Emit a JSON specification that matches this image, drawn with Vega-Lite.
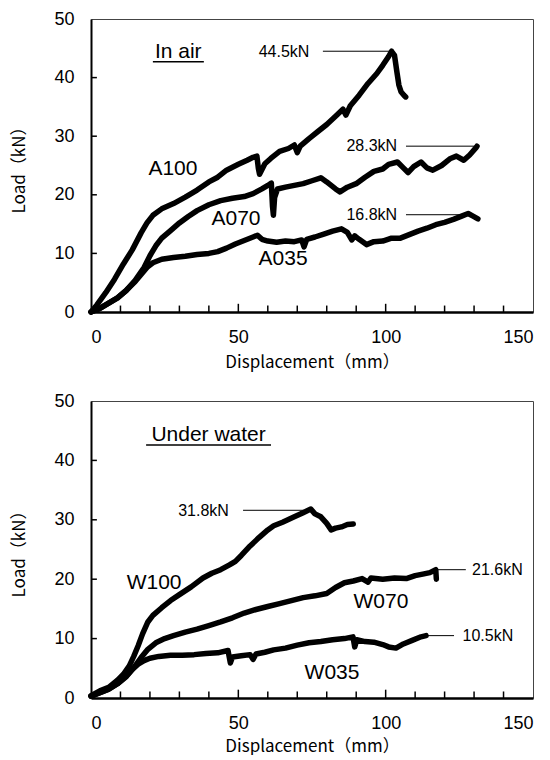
{
  "$schema": "https://vega.github.io/schema/vega-lite/v6.json",
  "background": "white",
  "padding": {"left": 10, "top": 9, "right": 0, "bottom": 0},
  "spacing": 20,
  "config": {
    "font": "Liberation Sans",
    "view": {"stroke": "#444", "strokeWidth": 1},
    "axis": {
      "grid": false,
      "zindex": 0,
      "domainColor": "black",
      "domainWidth": 2.5,
      "tickColor": "black",
      "tickOpacity": 0,
      "tickSize": -6,
      "labelFont": "Liberation Sans",
      "labelFontSize": 18,
      "labelColor": "black",
      "labelOverlap": false,
      "titleFont": "Noto Sans CJK JP",
      "titleFontSize": 17,
      "titleFontWeight": "normal",
      "titleColor": "black"
    }
  },
  "datasets": {
    "curves": [
      {"p":"air","s":"A100","d":0,"L":0},{"p":"air","s":"A100","d":2,"L":1.2},{"p":"air","s":"A100","d":5,"L":3.3},{"p":"air","s":"A100","d":8,"L":5.6},{"p":"air","s":"A100","d":11,"L":8.2},{"p":"air","s":"A100","d":14,"L":10.6},{"p":"air","s":"A100","d":17,"L":13.5},{"p":"air","s":"A100","d":19,"L":15.2},{"p":"air","s":"A100","d":21,"L":16.5},{"p":"air","s":"A100","d":24,"L":17.6},{"p":"air","s":"A100","d":28,"L":18.5},{"p":"air","s":"A100","d":32,"L":19.6},{"p":"air","s":"A100","d":36,"L":20.8},{"p":"air","s":"A100","d":40,"L":22.2},{"p":"air","s":"A100","d":43,"L":23.0},{"p":"air","s":"A100","d":46,"L":24.2},{"p":"air","s":"A100","d":50,"L":25.2},{"p":"air","s":"A100","d":53,"L":25.9},{"p":"air","s":"A100","d":55,"L":26.4},{"p":"air","s":"A100","d":56.3,"L":26.6},{"p":"air","s":"A100","d":56.8,"L":24.5},{"p":"air","s":"A100","d":57.2,"L":23.5},{"p":"air","s":"A100","d":59,"L":25.3},{"p":"air","s":"A100","d":61,"L":26.2},{"p":"air","s":"A100","d":64,"L":27.4},{"p":"air","s":"A100","d":67,"L":27.9},{"p":"air","s":"A100","d":69,"L":28.5},{"p":"air","s":"A100","d":70,"L":27.2},{"p":"air","s":"A100","d":71,"L":28.3},{"p":"air","s":"A100","d":74,"L":29.6},{"p":"air","s":"A100","d":77,"L":30.8},{"p":"air","s":"A100","d":80,"L":32.0},{"p":"air","s":"A100","d":83,"L":33.4},{"p":"air","s":"A100","d":85.5,"L":34.6},{"p":"air","s":"A100","d":86.5,"L":33.6},{"p":"air","s":"A100","d":88,"L":35.2},{"p":"air","s":"A100","d":91,"L":37.0},{"p":"air","s":"A100","d":94,"L":39.0},{"p":"air","s":"A100","d":97,"L":40.7},{"p":"air","s":"A100","d":99,"L":42.1},{"p":"air","s":"A100","d":101,"L":43.6},{"p":"air","s":"A100","d":102,"L":44.5},{"p":"air","s":"A100","d":103,"L":43.8},{"p":"air","s":"A100","d":103.8,"L":41.0},{"p":"air","s":"A100","d":104.5,"L":38.7},{"p":"air","s":"A100","d":105.2,"L":37.6},{"p":"air","s":"A100","d":106.2,"L":37.0},{"p":"air","s":"A100","d":106.8,"L":36.7},
      {"p":"air","s":"A070","d":0,"L":0},{"p":"air","s":"A070","d":3,"L":0.6},{"p":"air","s":"A070","d":6,"L":1.5},{"p":"air","s":"A070","d":9,"L":2.4},{"p":"air","s":"A070","d":12,"L":3.7},{"p":"air","s":"A070","d":15,"L":5.4},{"p":"air","s":"A070","d":18,"L":7.6},{"p":"air","s":"A070","d":20,"L":9.6},{"p":"air","s":"A070","d":22,"L":11.3},{"p":"air","s":"A070","d":24,"L":12.6},{"p":"air","s":"A070","d":27,"L":13.9},{"p":"air","s":"A070","d":30,"L":15.2},{"p":"air","s":"A070","d":33,"L":16.3},{"p":"air","s":"A070","d":36,"L":17.3},{"p":"air","s":"A070","d":40,"L":18.3},{"p":"air","s":"A070","d":44,"L":19.0},{"p":"air","s":"A070","d":48,"L":19.4},{"p":"air","s":"A070","d":52,"L":19.7},{"p":"air","s":"A070","d":55,"L":20.2},{"p":"air","s":"A070","d":58,"L":21.0},{"p":"air","s":"A070","d":60,"L":21.6},{"p":"air","s":"A070","d":61.2,"L":22.0},{"p":"air","s":"A070","d":61.6,"L":18.0},{"p":"air","s":"A070","d":61.9,"L":16.5},{"p":"air","s":"A070","d":62.3,"L":19.5},{"p":"air","s":"A070","d":63.3,"L":21.0},{"p":"air","s":"A070","d":66,"L":21.3},{"p":"air","s":"A070","d":69,"L":21.6},{"p":"air","s":"A070","d":72,"L":21.9},{"p":"air","s":"A070","d":75,"L":22.4},{"p":"air","s":"A070","d":78,"L":22.9},{"p":"air","s":"A070","d":80,"L":22.2},{"p":"air","s":"A070","d":81.5,"L":21.6},{"p":"air","s":"A070","d":83,"L":21.0},{"p":"air","s":"A070","d":84.5,"L":20.5},{"p":"air","s":"A070","d":87,"L":21.3},{"p":"air","s":"A070","d":90,"L":21.9},{"p":"air","s":"A070","d":93,"L":23.0},{"p":"air","s":"A070","d":96,"L":24.0},{"p":"air","s":"A070","d":99,"L":24.4},{"p":"air","s":"A070","d":101,"L":25.2},{"p":"air","s":"A070","d":104,"L":25.6},{"p":"air","s":"A070","d":106,"L":24.6},{"p":"air","s":"A070","d":107.6,"L":23.8},{"p":"air","s":"A070","d":109.5,"L":24.8},{"p":"air","s":"A070","d":112,"L":25.6},{"p":"air","s":"A070","d":114,"L":24.6},{"p":"air","s":"A070","d":116,"L":24.2},{"p":"air","s":"A070","d":119,"L":25.0},{"p":"air","s":"A070","d":122,"L":26.2},{"p":"air","s":"A070","d":124,"L":26.6},{"p":"air","s":"A070","d":126.5,"L":25.9},{"p":"air","s":"A070","d":128.5,"L":26.8},{"p":"air","s":"A070","d":130.6,"L":28.0},{"p":"air","s":"A070","d":131,"L":28.3},
      {"p":"air","s":"A035","d":0,"L":0},{"p":"air","s":"A035","d":3,"L":0.6},{"p":"air","s":"A035","d":6,"L":1.5},{"p":"air","s":"A035","d":9,"L":2.4},{"p":"air","s":"A035","d":12,"L":3.7},{"p":"air","s":"A035","d":15,"L":5.2},{"p":"air","s":"A035","d":17,"L":6.4},{"p":"air","s":"A035","d":19,"L":7.6},{"p":"air","s":"A035","d":21,"L":8.4},{"p":"air","s":"A035","d":24,"L":9.0},{"p":"air","s":"A035","d":28,"L":9.3},{"p":"air","s":"A035","d":32,"L":9.5},{"p":"air","s":"A035","d":36,"L":9.8},{"p":"air","s":"A035","d":40,"L":10.0},{"p":"air","s":"A035","d":43,"L":10.3},{"p":"air","s":"A035","d":46,"L":10.9},{"p":"air","s":"A035","d":49,"L":11.6},{"p":"air","s":"A035","d":52,"L":12.2},{"p":"air","s":"A035","d":55,"L":12.8},{"p":"air","s":"A035","d":56.5,"L":13.1},{"p":"air","s":"A035","d":58,"L":12.4},{"p":"air","s":"A035","d":60,"L":12.1},{"p":"air","s":"A035","d":63,"L":11.9},{"p":"air","s":"A035","d":66,"L":12.1},{"p":"air","s":"A035","d":69,"L":12.0},{"p":"air","s":"A035","d":71.5,"L":12.3},{"p":"air","s":"A035","d":72.3,"L":11.1},{"p":"air","s":"A035","d":73.2,"L":12.4},{"p":"air","s":"A035","d":76,"L":12.8},{"p":"air","s":"A035","d":79,"L":13.3},{"p":"air","s":"A035","d":82,"L":13.8},{"p":"air","s":"A035","d":85,"L":14.2},{"p":"air","s":"A035","d":87,"L":13.6},{"p":"air","s":"A035","d":88.5,"L":12.3},{"p":"air","s":"A035","d":89.5,"L":13.0},{"p":"air","s":"A035","d":91,"L":12.4},{"p":"air","s":"A035","d":93.5,"L":11.5},{"p":"air","s":"A035","d":96,"L":12.0},{"p":"air","s":"A035","d":99,"L":12.1},{"p":"air","s":"A035","d":102,"L":12.6},{"p":"air","s":"A035","d":105,"L":12.6},{"p":"air","s":"A035","d":108,"L":13.2},{"p":"air","s":"A035","d":111,"L":13.8},{"p":"air","s":"A035","d":114,"L":14.3},{"p":"air","s":"A035","d":117,"L":14.9},{"p":"air","s":"A035","d":120,"L":15.3},{"p":"air","s":"A035","d":123,"L":15.8},{"p":"air","s":"A035","d":126,"L":16.4},{"p":"air","s":"A035","d":128,"L":16.8},{"p":"air","s":"A035","d":129.5,"L":16.4},{"p":"air","s":"A035","d":131.3,"L":15.9},
      {"p":"water","s":"W100","d":0,"L":0.4},{"p":"water","s":"W100","d":3,"L":1.2},{"p":"water","s":"W100","d":6,"L":1.8},{"p":"water","s":"W100","d":9,"L":3.0},{"p":"water","s":"W100","d":11,"L":4.0},{"p":"water","s":"W100","d":13,"L":5.4},{"p":"water","s":"W100","d":14.5,"L":7.0},{"p":"water","s":"W100","d":16,"L":8.8},{"p":"water","s":"W100","d":17.5,"L":10.8},{"p":"water","s":"W100","d":19.3,"L":12.8},{"p":"water","s":"W100","d":21,"L":13.9},{"p":"water","s":"W100","d":24,"L":15.2},{"p":"water","s":"W100","d":27,"L":16.4},{"p":"water","s":"W100","d":30,"L":17.4},{"p":"water","s":"W100","d":34,"L":18.7},{"p":"water","s":"W100","d":38,"L":20.2},{"p":"water","s":"W100","d":41,"L":21.0},{"p":"water","s":"W100","d":44,"L":21.6},{"p":"water","s":"W100","d":47,"L":22.4},{"p":"water","s":"W100","d":49,"L":23.0},{"p":"water","s":"W100","d":51,"L":24.0},{"p":"water","s":"W100","d":54,"L":25.6},{"p":"water","s":"W100","d":57,"L":27.0},{"p":"water","s":"W100","d":60,"L":28.3},{"p":"water","s":"W100","d":62,"L":29.0},{"p":"water","s":"W100","d":65,"L":29.6},{"p":"water","s":"W100","d":69,"L":30.5},{"p":"water","s":"W100","d":72,"L":31.2},{"p":"water","s":"W100","d":74.6,"L":31.8},{"p":"water","s":"W100","d":76,"L":31.0},{"p":"water","s":"W100","d":78,"L":30.5},{"p":"water","s":"W100","d":80,"L":29.4},{"p":"water","s":"W100","d":81.5,"L":28.3},{"p":"water","s":"W100","d":83,"L":28.6},{"p":"water","s":"W100","d":85,"L":28.8},{"p":"water","s":"W100","d":87,"L":29.2},{"p":"water","s":"W100","d":89,"L":29.3},
      {"p":"water","s":"W070","d":0,"L":0.3},{"p":"water","s":"W070","d":3,"L":0.9},{"p":"water","s":"W070","d":6,"L":1.5},{"p":"water","s":"W070","d":9,"L":2.4},{"p":"water","s":"W070","d":12,"L":3.6},{"p":"water","s":"W070","d":15,"L":5.4},{"p":"water","s":"W070","d":17,"L":6.8},{"p":"water","s":"W070","d":19.3,"L":8.2},{"p":"water","s":"W070","d":22,"L":9.3},{"p":"water","s":"W070","d":25,"L":10.0},{"p":"water","s":"W070","d":28,"L":10.5},{"p":"water","s":"W070","d":32,"L":11.1},{"p":"water","s":"W070","d":36,"L":11.6},{"p":"water","s":"W070","d":40,"L":12.2},{"p":"water","s":"W070","d":44,"L":12.8},{"p":"water","s":"W070","d":48,"L":13.5},{"p":"water","s":"W070","d":52,"L":14.3},{"p":"water","s":"W070","d":56,"L":14.9},{"p":"water","s":"W070","d":60,"L":15.4},{"p":"water","s":"W070","d":64,"L":15.9},{"p":"water","s":"W070","d":68,"L":16.4},{"p":"water","s":"W070","d":72,"L":16.9},{"p":"water","s":"W070","d":76,"L":17.2},{"p":"water","s":"W070","d":80,"L":17.6},{"p":"water","s":"W070","d":83,"L":18.6},{"p":"water","s":"W070","d":86,"L":19.4},{"p":"water","s":"W070","d":89,"L":19.7},{"p":"water","s":"W070","d":92,"L":20.1},{"p":"water","s":"W070","d":94,"L":19.5},{"p":"water","s":"W070","d":95,"L":20.2},{"p":"water","s":"W070","d":99,"L":20.0},{"p":"water","s":"W070","d":103,"L":20.2},{"p":"water","s":"W070","d":107,"L":20.1},{"p":"water","s":"W070","d":110,"L":20.6},{"p":"water","s":"W070","d":113,"L":20.9},{"p":"water","s":"W070","d":115,"L":21.1},{"p":"water","s":"W070","d":117,"L":21.6},{"p":"water","s":"W070","d":117.2,"L":20.0},
      {"p":"water","s":"W035","d":0,"L":0.3},{"p":"water","s":"W035","d":3,"L":0.9},{"p":"water","s":"W035","d":6,"L":1.5},{"p":"water","s":"W035","d":9,"L":2.4},{"p":"water","s":"W035","d":12,"L":3.7},{"p":"water","s":"W035","d":14,"L":4.8},{"p":"water","s":"W035","d":16,"L":5.7},{"p":"water","s":"W035","d":18,"L":6.3},{"p":"water","s":"W035","d":20,"L":6.7},{"p":"water","s":"W035","d":23,"L":7.0},{"p":"water","s":"W035","d":27,"L":7.2},{"p":"water","s":"W035","d":31,"L":7.2},{"p":"water","s":"W035","d":35,"L":7.3},{"p":"water","s":"W035","d":39,"L":7.5},{"p":"water","s":"W035","d":43,"L":7.6},{"p":"water","s":"W035","d":46.5,"L":8.0},{"p":"water","s":"W035","d":47.3,"L":5.9},{"p":"water","s":"W035","d":48,"L":6.9},{"p":"water","s":"W035","d":51,"L":7.1},{"p":"water","s":"W035","d":54,"L":7.3},{"p":"water","s":"W035","d":55,"L":6.5},{"p":"water","s":"W035","d":56,"L":7.4},{"p":"water","s":"W035","d":59,"L":7.7},{"p":"water","s":"W035","d":62,"L":8.1},{"p":"water","s":"W035","d":66,"L":8.4},{"p":"water","s":"W035","d":70,"L":8.9},{"p":"water","s":"W035","d":74,"L":9.3},{"p":"water","s":"W035","d":78,"L":9.5},{"p":"water","s":"W035","d":82,"L":9.8},{"p":"water","s":"W035","d":86,"L":10.0},{"p":"water","s":"W035","d":88.9,"L":10.3},{"p":"water","s":"W035","d":89.5,"L":8.6},{"p":"water","s":"W035","d":90.2,"L":9.8},{"p":"water","s":"W035","d":93,"L":9.5},{"p":"water","s":"W035","d":96,"L":9.4},{"p":"water","s":"W035","d":99,"L":9.0},{"p":"water","s":"W035","d":101,"L":8.6},{"p":"water","s":"W035","d":103.5,"L":8.4},{"p":"water","s":"W035","d":106,"L":9.1},{"p":"water","s":"W035","d":109,"L":9.7},{"p":"water","s":"W035","d":112,"L":10.3},{"p":"water","s":"W035","d":113.7,"L":10.5}
    ],
    "labels": [
      {"p":"air","k":"series","t":"A100","d":27.8,"L":24.4},
      {"p":"air","k":"series","t":"A070","d":49.2,"L":15.9},
      {"p":"air","k":"series","t":"A035","d":65.2,"L":9.0},
      {"p":"air","k":"title","t":"In air","d":29.6,"L":44.4},
      {"p":"air","k":"peak","t":"44.5kN","d":65.5,"L":44.4},
      {"p":"air","k":"peak","t":"28.3kN","d":95.3,"L":28.3},
      {"p":"air","k":"peak","t":"16.8kN","d":95.3,"L":16.6},
      {"p":"water","k":"series","t":"W100","d":21.4,"L":19.4},
      {"p":"water","k":"series","t":"W070","d":98.4,"L":16.2},
      {"p":"water","k":"series","t":"W035","d":81.8,"L":4.2},
      {"p":"water","k":"title","t":"Under water","d":39.9,"L":44.3},
      {"p":"water","k":"peak","t":"31.8kN","d":38.2,"L":31.4},
      {"p":"water","k":"peak","t":"21.6kN","d":137.9,"L":21.6},
      {"p":"water","k":"peak","t":"10.5kN","d":134.7,"L":10.5}
    ],
    "rules": [
      {"p":"air","k":"lead","d":78.7,"d2":102,"L":44.5},
      {"p":"air","k":"lead","d":106.9,"d2":130.6,"L":28.3},
      {"p":"air","k":"lead","d":106.9,"d2":126,"L":16.6},
      {"p":"air","k":"under","d":21,"d2":38.3,"L":42.7},
      {"p":"water","k":"lead","d":51.6,"d2":74.6,"L":31.6},
      {"p":"water","k":"lead","d":117.7,"d2":127.2,"L":21.6},
      {"p":"water","k":"lead","d":113.7,"d2":123.2,"L":10.5},
      {"p":"water","k":"under","d":18.7,"d2":61.1,"L":42.6}
    ],
    "xticks": [
      {"d":10,"L":0,"L2":1.1},{"d":20,"L":0,"L2":1.1},{"d":30,"L":0,"L2":1.1},{"d":40,"L":0,"L2":1.1},{"d":50,"L":0,"L2":1.4},
      {"d":60,"L":0,"L2":1.1},{"d":70,"L":0,"L2":1.1},{"d":80,"L":0,"L2":1.1},{"d":90,"L":0,"L2":1.1},{"d":100,"L":0,"L2":1.4},
      {"d":110,"L":0,"L2":1.1},{"d":120,"L":0,"L2":1.1},{"d":130,"L":0,"L2":1.1},{"d":140,"L":0,"L2":1.1}
    ],
    "yticks": [
      {"d":0,"d2":2.0,"L":10},{"d":0,"d2":2.0,"L":20},{"d":0,"d2":2.0,"L":30},{"d":0,"d2":2.0,"L":40}
    ]
  },
  "vconcat": [
    {
      "width": 442,
      "height": 293,
      "encoding": {
        "x": {"field": "d", "type": "quantitative", "scale": {"domain": [0, 150], "nice": false},
          "axis": {"title": "Displacement（mm）", "values": [0,10,20,30,40,50,60,70,80,90,100,110,120,130,140,150],
            "labelExpr": "datum.value % 50 == 0 ? datum.label : ''", "labelPadding": 22, "titlePadding": 8}},
        "y": {"field": "L", "type": "quantitative", "scale": {"domain": [0, 50], "nice": false},
          "axis": {"title": "Load（kN）", "values": [0,10,20,30,40,50], "labelPadding": 23, "titlePadding": 25, "domainWidth": 2}}
      },
      "layer": [
        {"data": {"name": "curves"}, "transform": [{"filter": "datum.p == 'air'"}],
          "mark": {"type": "line", "color": "black", "strokeWidth": 5.5, "strokeJoin": "round", "strokeCap": "round"},
          "encoding": {"detail": {"field": "s"}}},
        {"data": {"name": "rules"}, "transform": [{"filter": "datum.p == 'air' && datum.k == 'lead'"}],
          "mark": {"type": "rule", "color": "black", "strokeWidth": 1},
          "encoding": {"x2": {"field": "d2"}}},
        {"data": {"name": "rules"}, "transform": [{"filter": "datum.p == 'air' && datum.k == 'under'"}],
          "mark": {"type": "rule", "color": "black", "strokeWidth": 1.5},
          "encoding": {"x2": {"field": "d2"}}},
        {"data": {"name": "labels"}, "transform": [{"filter": "datum.p == 'air' && datum.k == 'series'"}],
          "mark": {"type": "text", "fontSize": 21, "color": "black", "align": "center", "baseline": "middle"},
          "encoding": {"text": {"field": "t"}}},
        {"data": {"name": "labels"}, "transform": [{"filter": "datum.p == 'air' && datum.k == 'title'"}],
          "mark": {"type": "text", "fontSize": 21, "color": "black", "align": "center", "baseline": "middle"},
          "encoding": {"text": {"field": "t"}}},
        {"data": {"name": "labels"}, "transform": [{"filter": "datum.p == 'air' && datum.k == 'peak'"}],
          "mark": {"type": "text", "fontSize": 16, "color": "black", "align": "center", "baseline": "middle"},
          "encoding": {"text": {"field": "t"}}},
        {"data": {"name": "xticks"}, "mark": {"type": "rule", "color": "black", "strokeWidth": 1.5},
          "encoding": {"y2": {"field": "L2"}}},
        {"data": {"name": "yticks"}, "mark": {"type": "rule", "color": "black", "strokeWidth": 1.5},
          "encoding": {"x2": {"field": "d2"}}}
      ]
    },
    {
      "width": 442,
      "height": 297,
      "encoding": {
        "x": {"field": "d", "type": "quantitative", "scale": {"domain": [0, 150], "nice": false},
          "axis": {"title": "Displacement（mm）", "values": [0,10,20,30,40,50,60,70,80,90,100,110,120,130,140,150],
            "labelExpr": "datum.value % 50 == 0 ? datum.label : ''", "labelPadding": 22, "titlePadding": 6}},
        "y": {"field": "L", "type": "quantitative", "scale": {"domain": [0, 50], "nice": false},
          "axis": {"title": "Load（kN）", "values": [0,10,20,30,40,50], "labelPadding": 23, "titlePadding": 25, "domainWidth": 2}}
      },
      "layer": [
        {"data": {"name": "curves"}, "transform": [{"filter": "datum.p == 'water'"}],
          "mark": {"type": "line", "color": "black", "strokeWidth": 5.5, "strokeJoin": "round", "strokeCap": "round"},
          "encoding": {"detail": {"field": "s"}}},
        {"data": {"name": "rules"}, "transform": [{"filter": "datum.p == 'water' && datum.k == 'lead'"}],
          "mark": {"type": "rule", "color": "black", "strokeWidth": 1},
          "encoding": {"x2": {"field": "d2"}}},
        {"data": {"name": "rules"}, "transform": [{"filter": "datum.p == 'water' && datum.k == 'under'"}],
          "mark": {"type": "rule", "color": "black", "strokeWidth": 1.5},
          "encoding": {"x2": {"field": "d2"}}},
        {"data": {"name": "labels"}, "transform": [{"filter": "datum.p == 'water' && datum.k == 'series'"}],
          "mark": {"type": "text", "fontSize": 21, "color": "black", "align": "center", "baseline": "middle"},
          "encoding": {"text": {"field": "t"}}},
        {"data": {"name": "labels"}, "transform": [{"filter": "datum.p == 'water' && datum.k == 'title'"}],
          "mark": {"type": "text", "fontSize": 21, "color": "black", "align": "center", "baseline": "middle"},
          "encoding": {"text": {"field": "t"}}},
        {"data": {"name": "labels"}, "transform": [{"filter": "datum.p == 'water' && datum.k == 'peak'"}],
          "mark": {"type": "text", "fontSize": 16, "color": "black", "align": "center", "baseline": "middle"},
          "encoding": {"text": {"field": "t"}}},
        {"data": {"name": "xticks"}, "mark": {"type": "rule", "color": "black", "strokeWidth": 1.5},
          "encoding": {"y2": {"field": "L2"}}},
        {"data": {"name": "yticks"}, "mark": {"type": "rule", "color": "black", "strokeWidth": 1.5},
          "encoding": {"x2": {"field": "d2"}}}
      ]
    }
  ]
}
